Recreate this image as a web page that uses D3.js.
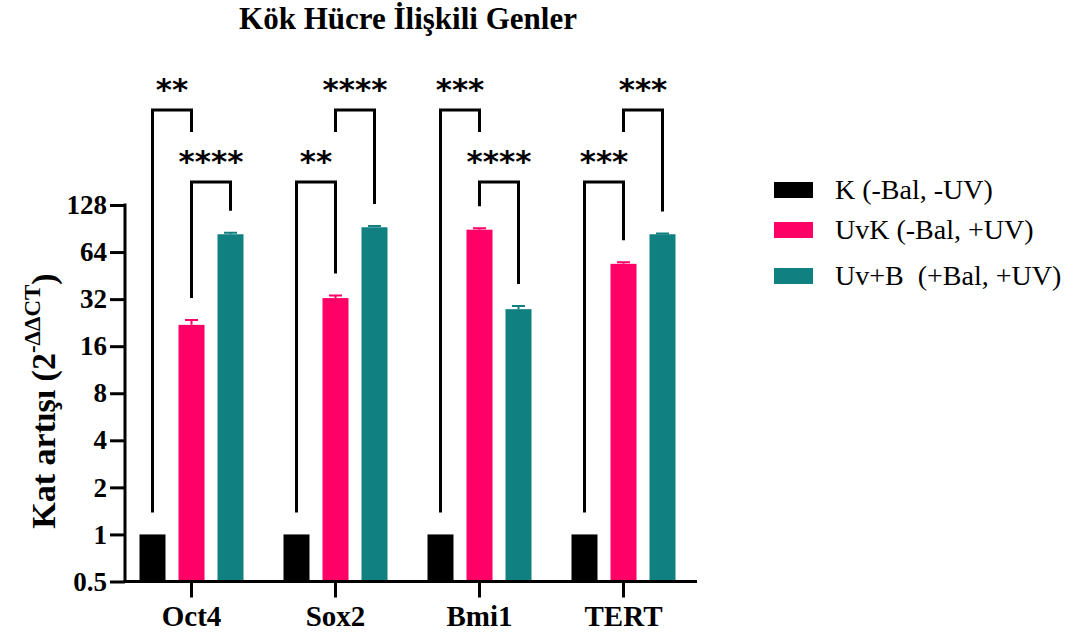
<!DOCTYPE html>
<html>
<head>
<meta charset="utf-8">
<script src="https://cdn.jsdelivr.net/npm/d3@7"></script>
<style>
  body { margin: 0; background: #fff; }
</style>
</head>
<body>
<div id="chart"></div>
<script>
// Data
const genes = ["Oct4", "Sox2", "Bmi1", "TERT"];
const groups = ["K", "UvK", "UvB"];
const groupLabels = ["K (-Bal, -UV)", "UvK (-Bal, +UV)", "Uv+B  (+Bal, +UV)"];
const groupColors = ["#000000", "#ff0066", "#118080"];
const kValues = [1, 1, 1, 1];
const kErr = [0, 0, 0, 0];
const uvkValues = [21.9, 32.5, 89, 53.8];
const uvkErr = [1.6, 1.2, 2, 1.2];
const uvbValues = [83.2, 92.2, 27.6, 83.2];
const uvbErr = [1.8, 1.8, 1.3, 0.8];
const yTicks = [0.5, 1, 2, 4, 8, 16, 32, 64, 128];

// significance brackets: gene, from group, to group, level (0 = top row), label
const comparisons = [
    {gene: "Oct4", a: "K", b: "UvK", level: 0, label: "**"},
    {gene: "Oct4", a: "UvK", b: "UvB", level: 1, label: "****"},
    {gene: "Sox2", a: "K", b: "UvK", level: 1, label: "**"},
    {gene: "Sox2", a: "UvK", b: "UvB", level: 0, label: "****"},
    {gene: "Bmi1", a: "K", b: "UvK", level: 0, label: "***"},
    {gene: "Bmi1", a: "UvK", b: "UvB", level: 1, label: "****"},
    {gene: "TERT", a: "K", b: "UvK", level: 1, label: "***"},
    {gene: "TERT", a: "UvK", b: "UvB", level: 0, label: "***"}
];

const serif = "Liberation Serif, Times New Roman, serif";

const valuesByGroup = {K: kValues, UvK: uvkValues, UvB: uvbValues};
const errByGroup = {K: kErr, UvK: uvkErr, UvB: uvbErr};

const rows = [];
genes.forEach((g, i) => {
    groups.forEach((s, j) => {
        rows.push({gene: g, group: s, value: valuesByGroup[s][i], err: errByGroup[s][i], color: groupColors[j]});
    });
});

const W = 1072, H = 637;
const svg = d3.select("#chart").append("svg")
    .attr("width", W)
    .attr("height", H);

// Scales
const x = d3.scaleBand()
    .domain(genes)
    .range([119.5, 695.5]);

const xs = d3.scaleBand()
    .domain(groups)
    .range([-52, 52])
    .paddingInner(1 / 3);

const y = d3.scaleLog()
    .base(2)
    .domain([0.5, 128])
    .range([581.5, 205]);

const cx = (gene, group) => x(gene) + x.bandwidth() / 2 + xs(group) + xs.bandwidth() / 2;

// Title
svg.append("text")
    .attr("x", 408)
    .attr("y", 29)
    .attr("text-anchor", "middle")
    .attr("font-family", serif)
    .attr("font-size", 31)
    .attr("font-weight", "bold")
    .text("Kök Hücre İlişkili Genler");

// Bars
svg.selectAll(".bar")
    .data(rows)
    .enter()
    .append("rect")
    .attr("class", "bar")
    .attr("x", d => x(d.gene) + x.bandwidth() / 2 + xs(d.group))
    .attr("y", d => y(d.value))
    .attr("width", xs.bandwidth())
    .attr("height", d => y(0.5) - y(d.value))
    .attr("fill", d => d.color);

// Error bars (upper only)
const errRows = rows.filter(d => d.err > 0);
svg.selectAll(".err")
    .data(errRows)
    .enter()
    .append("path")
    .attr("class", "err")
    .attr("d", d => {
        const c = cx(d.gene, d.group);
        return `M${c},${y(d.value)}V${y(d.value + d.err)}M${c - 6.5},${y(d.value + d.err)}H${c + 6.5}`;
    })
    .attr("stroke", d => d.color)
    .attr("stroke-width", 2)
    .attr("fill", "none");

// Y axis
const yAxis = svg.append("g")
    .attr("transform", "translate(125,0)")
    .call(d3.axisLeft(y).tickValues(yTicks).tickFormat(d => d).tickSize(15).tickSizeOuter(0).tickPadding(3));
yAxis.select(".domain").attr("stroke-width", 3).attr("d", "M0,583V203.5");
yAxis.selectAll(".tick line").attr("stroke-width", 3);
yAxis.selectAll(".tick text")
    .attr("font-size", 27)
    .attr("font-weight", "bold")
    .attr("font-family", serif)
    .attr("fill", "#000");

// X axis
const xAxis = svg.append("g")
    .attr("transform", "translate(0,581.5)")
    .call(d3.axisBottom(x).tickSize(16).tickSizeOuter(0).tickPadding(8));
xAxis.select(".domain").attr("stroke-width", 3).attr("d", "M123.5,0H697");
xAxis.selectAll(".tick line").attr("stroke-width", 3);
xAxis.selectAll(".tick text")
    .attr("font-size", 29)
    .attr("font-weight", "bold")
    .attr("font-family", serif)
    .attr("fill", "#000");

// Y label
const ylab = svg.append("text")
    .attr("transform", "translate(55,401) rotate(-90)")
    .attr("text-anchor", "middle")
    .attr("font-family", serif)
    .attr("font-size", 34)
    .attr("font-weight", "bold");
ylab.append("tspan").text("Kat artışı (2");
ylab.append("tspan").attr("font-size", 23).attr("dy", -15).text("-ΔΔCT");
ylab.append("tspan").attr("dy", 15).text(")");

// Significance brackets
const levelY = [110, 182];
comparisons.forEach(c => {
    const gi = genes.indexOf(c.gene);
    const top = levelY[c.level];
    const legEnd = s => {
        // a top bracket end shared with a lower bracket stops short
        const covered = c.level === 0 && comparisons.some(o => o.gene === c.gene && o.level === 1 && (o.a === s || o.b === s));
        if (covered) return top + 22;
        return y(valuesByGroup[s][gi] + errByGroup[s][gi]) - 22;
    };
    const x1 = cx(c.gene, c.a), x2 = cx(c.gene, c.b);
    svg.append("path")
        .attr("d", `M${x1},${legEnd(c.a)}V${top}H${x2}V${legEnd(c.b)}`)
        .attr("fill", "none")
        .attr("stroke", "#000")
        .attr("stroke-width", 3);
    svg.append("text")
        .attr("x", (x1 + x2) / 2)
        .attr("y", top - 10)
        .attr("text-anchor", "middle")
        .attr("font-family", "DejaVu Sans, sans-serif")
        .attr("font-weight", "bold")
        .attr("font-size", 31)
        .text(c.label);
});

// Legend
const legendY = [190, 230, 276];
const legend = svg.selectAll(".legend")
    .data(groups)
    .enter()
    .append("g")
    .attr("class", "legend")
    .attr("transform", (d, i) => `translate(774,${legendY[i]})`);
legend.append("rect")
    .attr("x", 0)
    .attr("y", -8)
    .attr("width", 39)
    .attr("height", 16)
    .attr("fill", (d, i) => groupColors[i]);
legend.append("text")
    .attr("x", 61)
    .attr("y", 9)
    .attr("font-family", serif)
    .attr("font-size", 28)
    .style("white-space", "pre")
    .text((d, i) => groupLabels[i]);
</script>
</body>
</html>
